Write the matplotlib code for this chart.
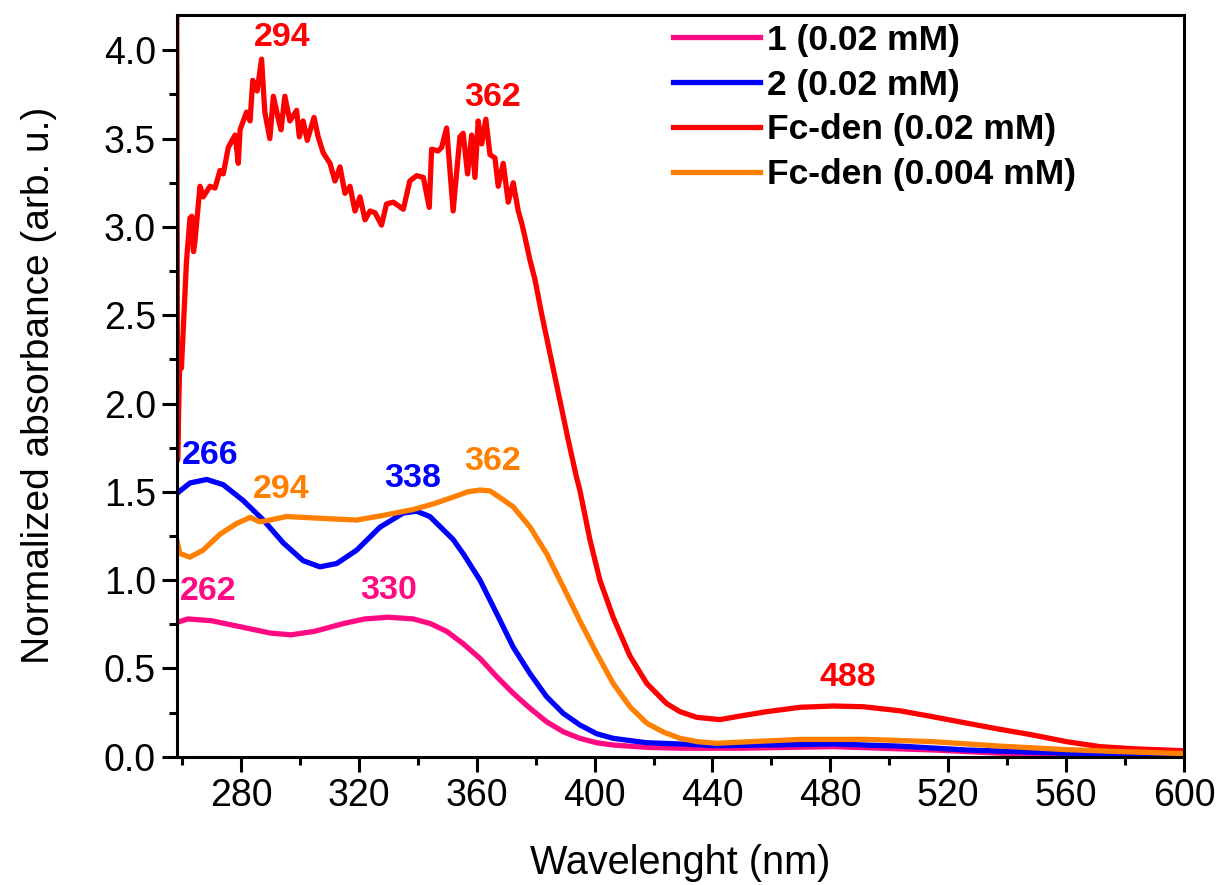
import matplotlib
matplotlib.use("Agg")
import matplotlib.pyplot as plt
from matplotlib.ticker import MultipleLocator, FormatStrFormatter

plt.rcParams['font.family'] = ['Liberation Sans', 'DejaVu Sans']

# ---- data ----
wl_1 = [258.2, 262, 270, 280, 290, 297, 305, 315, 322, 330, 338.5, 344.1, 349.8, 355.4,
        361.1, 366.8, 372.4, 378.1, 383.7, 389.4, 395.0, 400.7, 406.3, 417.7, 429, 450,
        481, 515, 537.6, 570, 599]
abs_1 = [0.76, 0.78, 0.77, 0.735, 0.70, 0.69, 0.71, 0.755, 0.78, 0.79, 0.78, 0.755, 0.71, 0.64,
         0.557, 0.453, 0.359, 0.274, 0.198, 0.141, 0.104, 0.079, 0.066, 0.053, 0.048, 0.048,
         0.057, 0.038, 0.02, 0.012, 0.008]

wl_2 = [258.2, 262.7, 268.4, 274.0, 280.8, 287.6, 294.4, 301.1, 306.8, 312.5, 319.3, 327.2,
        335.1, 339.6, 344.1, 352.0, 355.4, 361.1, 366.8, 372.4, 378.1, 383.7, 389.4, 395.0,
        400.7, 406.3, 417.7, 429.0, 441, 458, 481, 503.6, 526.3, 544.3, 560, 580, 599]
abs_2 = [1.49, 1.55, 1.57, 1.54, 1.45, 1.34, 1.21, 1.11, 1.075, 1.094, 1.17, 1.30,
         1.38, 1.39, 1.36, 1.23, 1.15, 1.00, 0.81, 0.62, 0.47, 0.34, 0.245, 0.18,
         0.13, 0.104, 0.079, 0.072, 0.062, 0.066, 0.072, 0.06, 0.038, 0.028, 0.02, 0.012, 0.01]

wl_fc = [258.2, 258.5, 259.3, 259.8, 261.5, 262.7, 263.3, 263.9, 264.4, 266.1, 267.2, 269.5,
         271.2, 272.9, 274.0, 275.7, 278.0, 279.1, 279.7, 281.9, 283.1, 284.0, 285.5, 287.0,
         288.1, 289.8, 291.0, 292.7, 293.6, 294.9, 296.6, 298.9, 299.8, 301.1, 302.5, 304.8,
         306.2, 307.9, 310.2, 311.9, 313.6, 315.3, 317.0, 318.7, 320.4, 322.1, 323.8, 325.5,
         327.7, 329.4, 331.7, 335.1, 337.3, 339.6, 341.9, 343.9, 344.7, 346.9, 348.1, 349.8,
         352.0, 354.3, 355.4, 356.9, 358.3, 359.4, 360.5, 361.7, 363.1, 364.5, 366.2, 367.3,
         369.0, 370.7, 372.4, 374.1, 375.3, 376.4, 378.1, 379.8, 382.0, 384.9, 388.2, 391.1,
         393.9, 395.0, 398.4, 401.8, 406.3, 412.0, 417.7, 424.5, 429.0, 434.6, 442.5, 449.3,
         458.4, 469.8, 481.0, 491.2, 503.6, 514.9, 526.3, 537.6, 548.7, 560.2, 571.5, 582.8,
         599.2]
abs_fc = [4.4, 1.68, 2.30, 2.20, 2.80, 3.05, 3.06, 2.86, 2.92, 3.23, 3.17, 3.23,
          3.22, 3.32, 3.30, 3.45, 3.52, 3.36, 3.55, 3.65, 3.60, 3.83, 3.77, 3.95,
          3.65, 3.50, 3.74, 3.61, 3.55, 3.74, 3.60, 3.66, 3.51, 3.60, 3.49, 3.62,
          3.51, 3.42, 3.36, 3.26, 3.34, 3.19, 3.23, 3.09, 3.17, 3.04, 3.09, 3.08,
          3.01, 3.13, 3.14, 3.10, 3.26, 3.29, 3.28, 3.11, 3.44, 3.43, 3.45, 3.56,
          3.09, 3.51, 3.53, 3.30, 3.52, 3.28, 3.60, 3.47, 3.61, 3.41, 3.39, 3.23,
          3.36, 3.14, 3.25, 3.09, 3.02, 2.94, 2.81, 2.70, 2.51, 2.28, 2.02, 1.79,
          1.58, 1.51, 1.23, 1.00, 0.79, 0.57, 0.415, 0.30, 0.255, 0.223, 0.21, 0.23,
          0.255, 0.28, 0.287, 0.283, 0.26, 0.226, 0.19, 0.155, 0.123, 0.085, 0.057, 0.045,
          0.034]

wl_fc2 = [258.2, 259.3, 262.7, 267.2, 272.9, 278.5, 283.1, 286.4, 289.8, 295.5, 306.8, 319.3,
          329.4, 338.5, 345, 352.0, 357, 361.1, 364.5, 366.8, 372.4, 378.1, 383.7, 389.4,
          395.0, 400.7, 406.3, 412.0, 417.7, 423.3, 429.0, 435, 441.4, 452.7, 469.8, 492.3,
          514.9, 537.6, 560.2, 580, 599.2]
abs_fc2 = [1.23, 1.15, 1.13, 1.17, 1.26, 1.32, 1.355, 1.33, 1.34, 1.36, 1.35, 1.34,
           1.37, 1.40, 1.43, 1.47, 1.50, 1.51, 1.505, 1.48, 1.415, 1.30, 1.15, 0.96,
           0.77, 0.585, 0.415, 0.283, 0.19, 0.14, 0.104, 0.085, 0.076, 0.085, 0.098, 0.098,
           0.085, 0.06, 0.04, 0.028, 0.018]

series_labels = ['1 (0.02 mM)', '2 (0.02 mM)', 'Fc-den (0.02 mM)', 'Fc-den (0.004 mM)']
series_colors = ['#FF0A82', '#0000FF', '#FF0000', '#FF8000']

# peak annotations: (text, x, y, color index)
peak_text = ['294', '362', '488', '266', '338', '294', '362', '262', '330']
peak_x = [294, 365.3, 485.8, 269.5, 338.2, 293.5, 365.4, 268.9, 330.0]
peak_y = [4.07, 3.73, 0.45, 1.707, 1.575, 1.515, 1.672, 0.934, 0.94]
peak_series = [2, 2, 2, 1, 1, 3, 3, 0, 0]

x_ticks = [280, 320, 360, 400, 440, 480, 520, 560, 600]
y_ticks = [0.0, 0.5, 1.0, 1.5, 2.0, 2.5, 3.0, 3.5, 4.0]

# ---- figure ----
fig = plt.figure(figsize=(12.19, 8.85), dpi=100)
ax = fig.add_axes([0.14496, 0.14497, 0.8263, 0.8381])

xs = [wl_1, wl_2, wl_fc, wl_fc2]
ys = [abs_1, abs_2, abs_fc, abs_fc2]
for x, y, lab, c in zip(xs, ys, series_labels, series_colors):
    ax.plot(x, y, color=c, lw=3.8, label=lab, solid_joinstyle='round')

for t, px, py, si in zip(peak_text, peak_x, peak_y, peak_series):
    ax.text(px, py, t, color=series_colors[si], fontsize=24.5, fontweight='bold',
            ha='center', va='center')

ax.set_xlim(258.2, 600)
ax.set_ylim(0, 4.2)
ax.set_xticks(x_ticks)
ax.set_yticks(y_ticks)
ax.xaxis.set_minor_locator(MultipleLocator(20))
ax.yaxis.set_minor_locator(MultipleLocator(0.25))
ax.yaxis.set_major_formatter(FormatStrFormatter('%.1f'))

ax.tick_params(axis='both', which='major', direction='out', length=11, width=2.2,
               labelsize=27, pad=4)
ax.tick_params(axis='both', which='minor', direction='out', length=6, width=2.2)
for s in ax.spines.values():
    s.set_linewidth(2.2)

ax.set_xlabel('Wavelenght (nm)', fontsize=28.5, labelpad=22)
ax.set_ylabel('Normalized absorbance (arb. u.)', fontsize=28, labelpad=34)

leg = ax.legend(loc='upper left', bbox_to_anchor=(0.4927, 0.988), frameon=False,
                prop={'size': 25.5, 'weight': 'bold'}, handlelength=2.45,
                handletextpad=0.2, labelspacing=0.33, borderpad=0, borderaxespad=0)
for h in leg.get_lines():
    h.set_linewidth(3.8)

fig.savefig('out.png', dpi=100)
